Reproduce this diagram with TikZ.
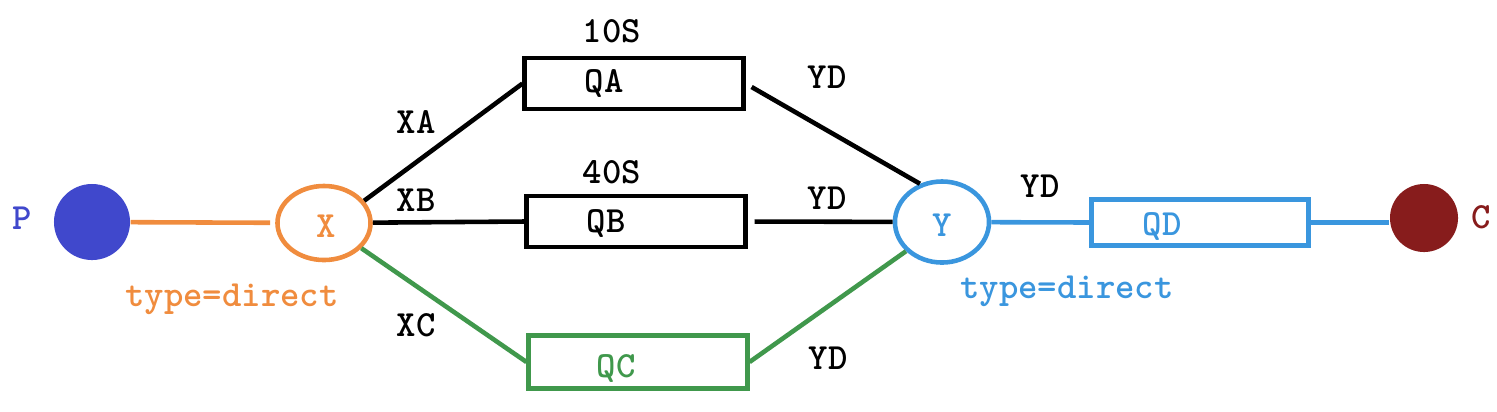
\documentclass[tikz,border=0pt]{standalone}
\usetikzlibrary{shapes.geometric}
\definecolor{pblue}{RGB}{64,72,204}
\definecolor{orng}{RGB}{240,140,62}
\definecolor{grn}{RGB}{64,152,76}
\definecolor{lblu}{RGB}{58,150,222}
\definecolor{dred}{RGB}{135,28,28}
\begin{document}
\begin{tikzpicture}[x=0.01cm,y=-0.01cm,
  lbl/.style={font=\fontsize{10.5}{12}\selectfont\ttfamily\bfseries, inner sep=0},
  conn/.style={line width=1.3pt},
  queue/.style={draw, rectangle, line width=1.4pt, inner sep=0, minimum width=2.18cm},
  exch/.style={draw, ellipse, line width=1.3pt, inner sep=0}]
\useasboundingbox (0,0) rectangle (1497,411);

% endpoints
\node[circle, fill=pblue, minimum size=0.76cm, inner sep=0] (p) at (92,222) {};
\node[circle, fill=dred, minimum size=0.68cm, inner sep=0] (c) at (1424,218) {};
% exchanges
\node[exch, draw=orng, minimum width=0.93cm, minimum height=0.74cm] (x) at (324,223) {};
\node[exch, draw=lblu, minimum width=0.94cm, minimum height=0.81cm] (y) at (942,222) {};
% queues
\node[queue, minimum height=0.51cm] (qa) at (634,83.5) {};
\node[queue, minimum height=0.51cm] (qb) at (636,221.5) {};
\node[queue, draw=grn, minimum height=0.53cm] (qc) at (638,362) {};
\node[queue, draw=lblu, minimum width=2.17cm, minimum height=0.46cm] (qd) at (1200,222.5) {};

% texts
\node[lbl, text=pblue] (tp) at (22,218) {P};
\node[lbl, text=dred] (tc) at (1481,217) {C};
\node[lbl, text=orng] (tx) at (326,226) {X};
\node[lbl, text=lblu] (ty) at (942,225) {Y};
\node[lbl] (tqa) at (604,83) {QA};
\node[lbl] (tqb) at (606,223) {QB};
\node[lbl, text=grn] (tqc) at (616,368) {QC};
\node[lbl, text=lblu] (tqd) at (1162,226) {QD};
\node[lbl] (t10) at (612,31) {10S};
\node[lbl] (t40) at (612,172) {40S};
\node[lbl] (txa) at (416,122) {XA};
\node[lbl] (txb) at (416,200) {XB};
\node[lbl] (txc) at (416,325) {XC};
\node[lbl] (yd1) at (827,77) {YD};
\node[lbl] (yd2) at (827,198) {YD};
\node[lbl] (yd3) at (828,358) {YD};
\node[lbl] (yd4) at (1040,186) {YD};
\node[lbl, text=orng] (tyx) at (232,299) {type=direct};
\node[lbl, text=lblu] (tyy) at (1067,291) {type=direct};

% connectors
\draw[conn, orng, shorten >=0.05cm] (p) -- (x);
\draw[conn] (x.29) -- (qa.west);
\draw[conn] (x) -- (qb.west);
\draw[conn, grn] (x.-34) -- (qc.west);
\draw[conn, shorten <=0.07cm] (qa.east) -- (y.120);
\draw[conn, shorten <=0.07cm] (qb.east) -- (y);
\draw[conn, grn] (qc.east) -- (y.219);
\draw[conn, lblu] (y) -- (qd.west);
\draw[conn, lblu] (qd.east) -- (c.west |- qd.east);
\end{tikzpicture}
\end{document}
